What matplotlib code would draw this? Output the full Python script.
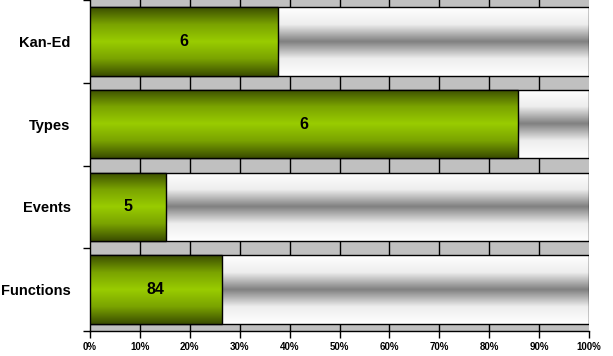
import numpy as np
import matplotlib
matplotlib.use("Agg")
import matplotlib.pyplot as plt
from matplotlib.colors import LinearSegmentedColormap
from matplotlib.patches import Rectangle

# data (top to bottom)
categories = ["Kan-Ed", "Types", "Events", "Functions"]
percent = [37.7, 85.8, 15.2, 26.4]
counts = ["6", "6", "5", "84"]
xticks = list(range(0, 101, 10))
xtick_labels = [f"{t}%" for t in xticks]

plt.rcParams["font.family"] = ["Liberation Sans", "DejaVu Sans"]

green = LinearSegmentedColormap.from_list(
    "g", ["#3a4c00", "#7aa300", "#99cc00", "#7aa300", "#3a4c00"])
grey = LinearSegmentedColormap.from_list(
    "w", ["#ffffff", "#eeeeee", "#808080", "#eeeeee", "#ffffff"])
grad = np.linspace(0, 1, 256).reshape(-1, 1)

fig = plt.figure(figsize=(6.13, 3.56), dpi=100)
ax = fig.add_axes([90 / 613, 25 / 356, 499 / 613, 331 / 356])
ax.set_facecolor("#c0c0c0")

n = len(categories)
h = 0.83

for x in xticks[1:-1]:
    ax.axvline(x, color="black", lw=1, zorder=1)

for i, (p, c) in enumerate(zip(percent, counts)):
    y0, y1 = i - h / 2, i + h / 2
    # background 100% bar
    im = ax.imshow(grad, cmap=grey, aspect="auto", extent=(0, 100, y1, y0),
                   zorder=2, interpolation="bilinear")
    r = Rectangle((0, y0), 100, h, facecolor="none", edgecolor="black", lw=1, zorder=3)
    ax.add_patch(r)
    im.set_clip_path(r)
    # value bar
    im2 = ax.imshow(grad, cmap=green, aspect="auto", extent=(0, p, y1, y0),
                    zorder=4, interpolation="bilinear")
    r2 = Rectangle((0, y0), p, h, facecolor="none", edgecolor="black", lw=1, zorder=5)
    ax.add_patch(r2)
    im2.set_clip_path(r2)
    ax.text(p / 2, i, c, ha="center", va="center", fontsize=11.5,
            fontweight="bold", zorder=6)

ax.set_xlim(0, 100)
ax.set_ylim(n - 0.5, -0.5)

ax.set_xticks(xticks)
ax.set_xticklabels(xtick_labels, fontsize=7, fontweight="bold")
ax.set_yticks(np.arange(n + 1) - 0.5)
ax.set_yticklabels([])
ax.set_yticks(np.arange(n), minor=True)
ax.set_yticklabels(categories, minor=True, fontsize=10.5, fontweight="bold")
ax.tick_params(axis="y", which="minor", length=0, pad=14)
ax.tick_params(axis="both", which="major", length=5, width=1, color="black")
ax.tick_params(axis="x", pad=3)

for s in ["top", "right"]:
    ax.spines[s].set_visible(False)
for s in ["left", "bottom"]:
    ax.spines[s].set_linewidth(1)

fig.savefig("out.png", dpi=100)
